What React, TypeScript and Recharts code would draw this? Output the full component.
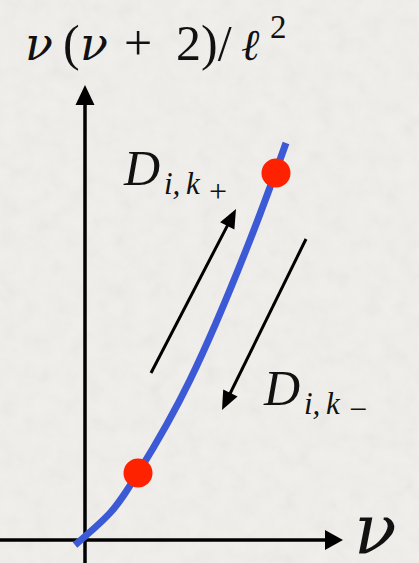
import React from "react"
import {
  ComposedChart,
  Line,
  Scatter,
  XAxis,
  YAxis,
  ReferenceLine,
  Customized,
} from "recharts"

// curve nu(nu+2)/l^2 against nu (x = nu, y = value)
const curveNu = [-0.2, 0.5, 1.06, 2.1, 3.3, 4.02]
const curveVal = [-0.1, 0.54, 1.34, 3.2, 6.0, 7.94]

// the two marked states on the curve
const dotNu = [1.06, 3.82]
const dotVal = [1.34, 7.34]

// transition arrows D_{i,k+} (up) and D_{i,k-} (down): [tail, tip]
const upArrow = [
  { x: 1.32, y: 3.34 },
  { x: 3.02, y: 6.62 },
]
const downArrow = [
  { x: 4.42, y: 6.02 },
  { x: 2.74, y: 2.6 },
]

// axis extents
const xDomain = [-1.7, 6.68]
const yDomain = [-0.46, 10.8]
const xAxisEnd = 5.16
const yAxisEnd = 9.1

const curve = curveNu.map((nu, i) => ({ nu, val: curveVal[i] }))
const dots = dotNu.map((nu, i) => ({ nu, val: dotVal[i] }))

const serif = "'Liberation Serif', 'DejaVu Serif', serif"
const greek = "'DejaVu Serif', 'Liberation Serif', serif"

const paper =
  "url(\"data:image/svg+xml;utf8,<svg xmlns='http://www.w3.org/2000/svg' width='419' height='563'><filter id='n'><feTurbulence type='fractalNoise' baseFrequency='0.06' numOctaves='4' seed='3'/><feColorMatrix type='saturate' values='0'/></filter><rect width='100%' height='100%' filter='url(%23n)' opacity='0.09'/></svg>\")"

function Arrow(props: any) {
  const { x1, y1, x2, y2, head = 19, spread = 18, stroke = "#000", strokeWidth = 3 } = props
  const dx = x2 - x1
  const dy = y2 - y1
  const len = Math.hypot(dx, dy)
  const ux = dx / len
  const uy = dy / len
  const bx = x2 - ux * head
  const by = y2 - uy * head
  const nx = -uy * (spread / 2)
  const ny = ux * (spread / 2)
  return (
    <g>
      <line x1={x1} y1={y1} x2={bx + ux * 2} y2={by + uy * 2} stroke={stroke} strokeWidth={strokeWidth} />
      <polygon points={`${x2},${y2} ${bx + nx},${by + ny} ${bx - nx},${by - ny}`} fill={stroke} />
    </g>
  )
}

function Labels() {
  return (
    <g fontFamily={serif} fill="#111">
      <text y={60} fontSize={50}>
        <tspan x={25} fontFamily={greek} fontSize={46} fontStyle="italic">ν</tspan>
        <tspan x={63}>(</tspan>
        <tspan x={80} fontFamily={greek} fontSize={46} fontStyle="italic">ν</tspan>
        <tspan x={124}>+</tspan>
        <tspan x={176}>2)/</tspan>
        <tspan x={241} fontFamily={greek} fontSize={44} fontStyle="italic">ℓ</tspan>
        <tspan x={270} y={38} fontSize={33}>2</tspan>
      </text>
      <text x={354} y={553} fontFamily={greek} fontSize={70} fontStyle="italic">
        ν
      </text>
      <text y={185} fontSize={50} fontStyle="italic">
        <tspan x={124}>D</tspan>
        <tspan x={164} y={194} fontSize={31}>i,</tspan>
        <tspan x={186} fontSize={31}>k</tspan>
        <tspan x={209} y={202} fontSize={32} fontStyle="normal">+</tspan>
      </text>
      <text y={405} fontSize={50} fontStyle="italic">
        <tspan x={264}>D</tspan>
        <tspan x={304} y={414} fontSize={31}>i,</tspan>
        <tspan x={326} fontSize={31}>k</tspan>
        <tspan x={349} y={420} fontSize={32} fontStyle="normal">−</tspan>
      </text>
    </g>
  )
}

export default function App() {
  return (
    <div
      style={{
        position: "fixed",
        left: 0,
        top: 0,
        width: 419,
        height: 563,
        background: "#f0efeb",
        backgroundImage: paper,
      }}
    >
      <ComposedChart width={419} height={563} margin={{ top: 0, right: 0, bottom: 0, left: 0 }}>
        <XAxis type="number" dataKey="nu" domain={xDomain} allowDataOverflow hide />
        <YAxis type="number" dataKey="val" domain={yDomain} allowDataOverflow hide />
        <ReferenceLine
          segment={[{ x: xDomain[0], y: 0 }, { x: xAxisEnd, y: 0 }]}
          ifOverflow="visible"
          stroke="#000"
          strokeWidth={3.5}
          shape={(p: any) => <Arrow {...p} head={18} spread={20} strokeWidth={3.5} />}
        />
        <ReferenceLine
          segment={[{ x: 0, y: yDomain[0] }, { x: 0, y: yAxisEnd }]}
          ifOverflow="visible"
          stroke="#000"
          strokeWidth={3.5}
          shape={(p: any) => <Arrow {...p} head={20} spread={19} strokeWidth={3.5} />}
        />
        <ReferenceLine
          segment={upArrow}
          ifOverflow="visible"
          stroke="#000"
          strokeWidth={3}
          shape={(p: any) => <Arrow {...p} head={19} spread={16} />}
        />
        <ReferenceLine
          segment={downArrow}
          ifOverflow="visible"
          stroke="#000"
          strokeWidth={3}
          shape={(p: any) => <Arrow {...p} head={19} spread={16} />}
        />
        <Line
          data={curve}
          dataKey="val"
          type="natural"
          stroke="#3d5ad6"
          strokeWidth={7}
          dot={false}
          activeDot={false}
          isAnimationActive={false}
        />
        <Scatter
          data={dots}
          dataKey="val"
          fill="#ff2200"
          isAnimationActive={false}
          shape={(p: any) => <circle cx={p.cx} cy={p.cy} r={14.5} fill="#ff2200" />}
        />
        <Customized component={Labels} />
      </ComposedChart>
    </div>
  )
}
